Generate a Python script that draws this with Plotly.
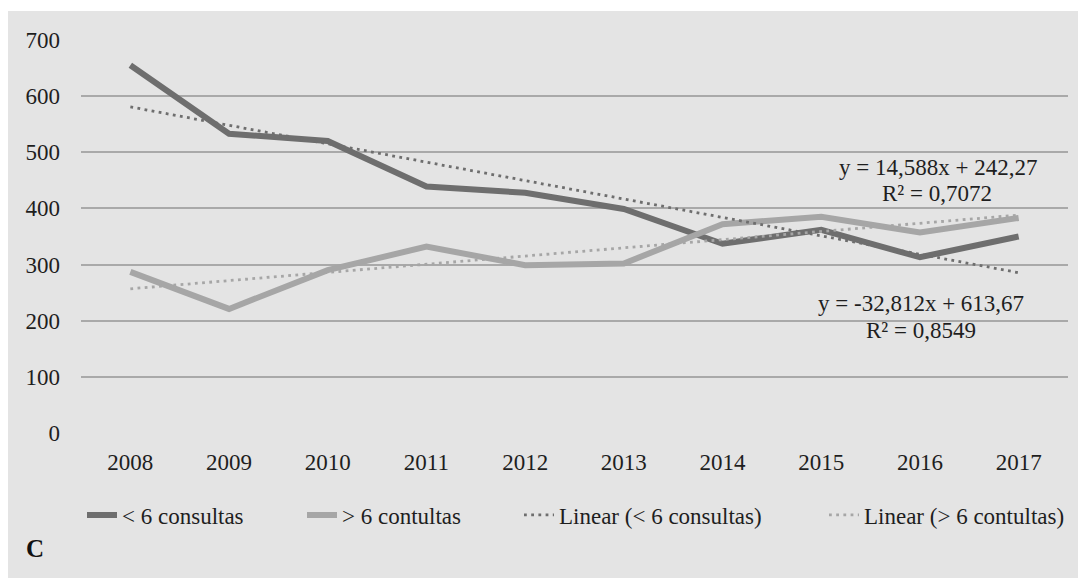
import plotly.graph_objects as go

years = ["2008", "2009", "2010", "2011", "2012", "2013", "2014", "2015", "2016", "2017"]
menos6 = [655, 533, 520, 439, 428, 399, 337, 362, 313, 350]
mais6 = [287, 221, 290, 332, 299, 302, 372, 385, 357, 383]

# trend coefficients as shown on the chart (x = 1..10)
trend_menos6 = (-32.812, 613.67)
trend_mais6 = (14.588, 242.27)

names = ["< 6 consultas", "> 6 contultas", "Linear (< 6 consultas)", "Linear (> 6 contultas)"]
yticks = [0, 100, 200, 300, 400, 500, 600, 700]

DARK = "#6e6e6e"
LIGHT = "#a6a6a6"
BG = "#e4e4e4"
TXT = "#1e1e1e"
FONT = "Liberation Serif"
FS = 23

xs = list(range(1, len(years) + 1))
tr1 = [trend_menos6[0] * x + trend_menos6[1] for x in xs]
tr2 = [trend_mais6[0] * x + trend_mais6[1] for x in xs]

# page is offset by the default 8px body margin
W, H = 1078, 570
ml, mr, mt, mb = 73, 18, 32, 145
pw, ph = W - ml - mr, H - mt - mb
PX0, PY1 = 81, 433  # plot left / bottom in page pixels


def px_x(p):
    return (p - PX0) / pw


def px_y(p):
    return (PY1 - p) / ph


fig = go.Figure()
fig.add_trace(go.Scatter(x=years, y=menos6, name=names[0], mode="lines",
                         line=dict(color=DARK, width=6), legend="legend"))
fig.add_trace(go.Scatter(x=years, y=mais6, name=names[1], mode="lines",
                         line=dict(color=LIGHT, width=6), legend="legend2"))
fig.add_trace(go.Scatter(x=years, y=tr1, name=names[2], mode="lines",
                         line=dict(color=DARK, width=2.8, dash="2.8px,4.4px"),
                         legend="legend3"))
fig.add_trace(go.Scatter(x=years, y=tr2, name=names[3], mode="lines",
                         line=dict(color=LIGHT, width=2.8, dash="2.8px,4.4px"),
                         legend="legend4"))

fig.add_shape(type="rect", xref="paper", yref="paper",
              x0=px_x(0), x1=px_x(1100), y0=px_y(11), y1=px_y(0),
              fillcolor="white", line=dict(width=0), layer="below")

ann_font = dict(family=FONT, size=FS, color=TXT)
for txt, cx, cy in [("y = 14,588x + 242,27", 938, 167),
                    ("R² = 0,7072", 937, 193),
                    ("y = -32,812x + 613,67", 921, 303),
                    ("R² = 0,8549", 921, 330)]:
    fig.add_annotation(xref="paper", yref="paper", x=px_x(cx), y=px_y(cy),
                       xanchor="center", yanchor="middle",
                       text=txt, showarrow=False, font=ann_font)
fig.add_annotation(xref="paper", yref="paper", x=px_x(24), y=px_y(548),
                   xanchor="left", yanchor="middle", text="<b>C</b>",
                   showarrow=False, font=dict(family=FONT, size=25, color="#111"))

leg_common = dict(orientation="h", yanchor="middle", xanchor="left",
                  y=px_y(515), bgcolor="rgba(0,0,0,0)",
                  font=dict(family=FONT, size=FS, color=TXT))
text_starts = [123, 343, 560, 865]
OFF = 41

fig.update_layout(
    width=W, height=H,
    margin=dict(l=ml, r=mr, t=mt, b=mb),
    paper_bgcolor=BG, plot_bgcolor=BG,
    font=dict(family=FONT, size=FS, color=TXT),
    showlegend=True,
    legend=dict(x=px_x(text_starts[0] - OFF), **leg_common),
    legend2=dict(x=px_x(text_starts[1] - OFF), **leg_common),
    legend3=dict(x=px_x(text_starts[2] - OFF), **leg_common),
    legend4=dict(x=px_x(text_starts[3] - OFF), **leg_common),
    xaxis=dict(type="category", range=[-0.5, 9.5], showgrid=False,
               showline=False, zeroline=False, ticks="",
               tickfont=dict(family=FONT, size=FS, color=TXT),
               ticklabelstandoff=13),
    yaxis=dict(range=[0, 700], tickvals=yticks, showgrid=True,
               gridcolor="#a9a9a9", gridwidth=1.5, zeroline=False,
               showline=False, ticks="",
               tickfont=dict(family=FONT, size=FS, color=TXT),
               ticklabelstandoff=20),
)

fig.write_html("out.html")
